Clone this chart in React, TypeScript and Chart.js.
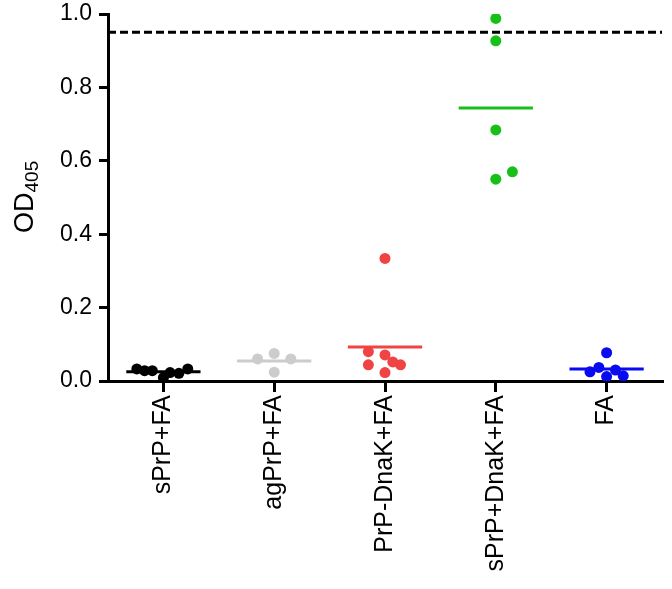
import React, { useEffect, useRef } from "react";
import { Chart, registerables } from "chart.js";

Chart.register(...registerables);

const categories = ["sPrP+FA", "agPrP+FA", "PrP-DnaK+FA", "sPrP+DnaK+FA", "FA"];
const colors = ["#000000", "#cccccc", "#f04343", "#16c016", "#0a0af0"];

const sPrPFA = [0.033, 0.028, 0.028, 0.009, 0.023, 0.021, 0.033];
const sPrPFAJitter = [-0.24, -0.17, -0.1, 0, 0.06, 0.14, 0.22];
const agPrPFA = [0.06, 0.075, 0.06, 0.024];
const agPrPFAJitter = [-0.15, 0, 0.15, 0];
const prpDnaKFA = [0.334, 0.08, 0.071, 0.044, 0.052, 0.044, 0.023];
const prpDnaKFAJitter = [0, -0.15, 0, -0.15, 0.07, 0.14, 0];
const sPrPDnaKFA = [0.988, 0.927, 0.684, 0.57, 0.55];
const sPrPDnaKFAJitter = [0, 0, 0, 0.15, 0];
const fa = [0.077, 0.025, 0.037, 0.03, 0.012, 0.014];
const faJitter = [0, -0.15, -0.07, 0.08, 0, 0.15];

const groups = [sPrPFA, agPrPFA, prpDnaKFA, sPrPDnaKFA, fa];
const jitters = [sPrPFAJitter, agPrPFAJitter, prpDnaKFAJitter, sPrPDnaKFAJitter, faJitter];

const threshold = 0.95;
const yTicks = [0, 0.2, 0.4, 0.6, 0.8, 1.0];

const FONT = "'Liberation Sans', Arial, sans-serif";

export default function App() {
  const ref = useRef<HTMLCanvasElement | null>(null);

  useEffect(() => {
    document.body.style.margin = "0";
    const canvas = ref.current;
    if (!canvas) return;

    const datasets: any[] = [];
    groups.forEach((vals, gi) => {
      datasets.push({
        type: "scatter",
        label: categories[gi],
        data: vals.map((v, i) => ({ x: gi + jitters[gi][i], y: v })),
        pointRadius: 5.5,
        pointBorderWidth: 0,
        pointBackgroundColor: colors[gi],
        pointBorderColor: colors[gi],
        order: 2,
      });
      const mean = vals.reduce((a, b) => a + b, 0) / vals.length;
      datasets.push({
        type: "line",
        label: categories[gi] + " mean",
        data: [
          { x: gi - 0.335, y: mean },
          { x: gi + 0.335, y: mean },
        ],
        borderColor: colors[gi],
        borderWidth: 3,
        pointRadius: 0,
        order: 1,
      });
    });
    datasets.push({
      type: "line",
      label: "cutoff",
      data: [
        { x: -0.5, y: threshold },
        { x: 4.5, y: threshold },
      ],
      borderColor: "#000000",
      borderWidth: 3,
      borderDash: [8, 4],
      pointRadius: 0,
      order: 0,
    });

    const titlePlugin = {
      id: "odTitle",
      afterDraw(chart: any) {
        const ctx = chart.ctx;
        ctx.save();
        ctx.translate(33, 233);
        ctx.rotate(-Math.PI / 2);
        ctx.fillStyle = "#000";
        ctx.textBaseline = "alphabetic";
        ctx.textAlign = "left";
        ctx.font = `27px ${FONT}`;
        ctx.fillText("OD", 0, 0);
        const w = ctx.measureText("OD").width;
        ctx.font = `19px ${FONT}`;
        ctx.fillText("405", w, 5);
        ctx.restore();
      },
    };

    const chart = new Chart(canvas, {
      type: "scatter",
      data: { datasets },
      plugins: [titlePlugin],
      options: {
        animation: false,
        responsive: false,
        layout: { padding: { top: 14, right: 10, left: 0, bottom: 0 } },
        plugins: { legend: { display: false }, tooltip: { enabled: false } },
        scales: {
          x: {
            type: "linear",
            min: -0.5,
            max: 4.5,
            afterBuildTicks(scale: any) {
              scale.ticks = categories.map((_, i) => ({ value: i }));
            },
            afterFit(scale: any) {
              scale.height = 208;
              scale.paddingLeft = 0;
              scale.paddingRight = 0;
            },
            ticks: {
              autoSkip: false,
              minRotation: 90,
              maxRotation: 90,
              padding: 3,
              color: "#000",
              font: { family: FONT, size: 25 },
              callback: (v: any) => categories[Math.round(Number(v))] ?? "",
            },
            grid: {
              display: true,
              drawOnChartArea: false,
              drawTicks: true,
              tickLength: 11,
              lineWidth: 3,
              color: "#000",
            },
            border: { display: true, color: "#000", width: 3 },
          },
          y: {
            type: "linear",
            min: 0,
            max: 1.0,
            afterBuildTicks(scale: any) {
              scale.ticks = yTicks.map((v) => ({ value: v }));
            },
            afterFit(scale: any) {
              scale.width = 108;
              scale.paddingTop = 0;
              scale.paddingBottom = 0;
            },
            ticks: {
              padding: 7,
              color: "#000",
              font: { family: FONT, size: 23 },
              callback: (v: any) => Number(v).toFixed(1),
            },
            grid: {
              display: true,
              drawOnChartArea: false,
              drawTicks: true,
              tickLength: 9,
              lineWidth: 3,
              color: "#000",
            },
            border: { display: true, color: "#000", width: 3 },
          },
        },
      },
    });

    return () => chart.destroy();
  }, []);

  return (
    <div style={{ width: 672, height: 589 }}>
      <canvas ref={ref} width={672} height={589} style={{ display: "block" }} />
    </div>
  );
}
